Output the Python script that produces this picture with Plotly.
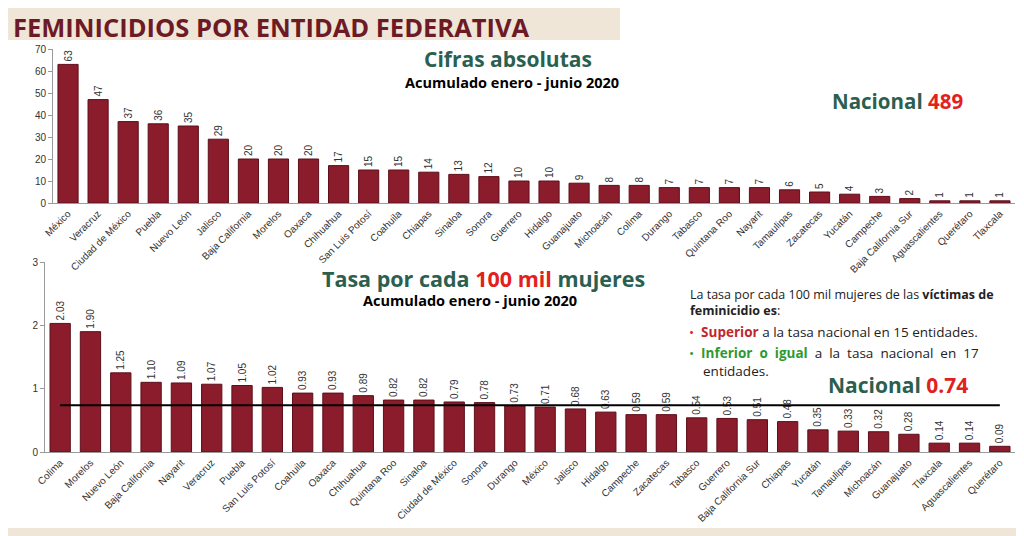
import plotly.graph_objects as go

# ---------------- DATA ----------------
abs_states = ["México", "Veracruz", "Ciudad de México", "Puebla", "Nuevo León", "Jalisco",
              "Baja California", "Morelos", "Oaxaca", "Chihuahua", "San Luis Potosí", "Coahuila",
              "Chiapas", "Sinaloa", "Sonora", "Guerrero", "Hidalgo", "Guanajuato", "Michoacán",
              "Colima", "Durango", "Tabasco", "Quintana Roo", "Nayarit", "Tamaulipas", "Zacatecas",
              "Yucatán", "Campeche", "Baja California Sur", "Aguascalientes", "Querétaro", "Tlaxcala"]
abs_values = [63, 47, 37, 36, 35, 29, 20, 20, 20, 17, 15, 15, 14, 13, 12, 10, 10, 9, 8, 8,
              7, 7, 7, 7, 6, 5, 4, 3, 2, 1, 1, 1]

rate_states = ["Colima", "Morelos", "Nuevo León", "Baja California", "Nayarit", "Veracruz",
               "Puebla", "San Luis Potosí", "Coahuila", "Oaxaca", "Chihuahua", "Quintana Roo",
               "Sinaloa", "Ciudad de México", "Sonora", "Durango", "México", "Jalisco", "Hidalgo",
               "Campeche", "Zacatecas", "Tabasco", "Guerrero", "Baja California Sur", "Chiapas",
               "Yucatán", "Tamaulipas", "Michoacán", "Guanajuato", "Tlaxcala", "Aguascalientes",
               "Querétaro"]
rate_values = [2.03, 1.90, 1.25, 1.10, 1.09, 1.07, 1.05, 1.02, 0.93, 0.93, 0.89, 0.82, 0.82,
               0.79, 0.78, 0.73, 0.71, 0.68, 0.63, 0.59, 0.59, 0.54, 0.53, 0.51, 0.48, 0.35,
               0.33, 0.32, 0.28, 0.14, 0.14, 0.09]

nacional_total = 489
nacional_tasa = 0.74
abs_ticks = [0, 10, 20, 30, 40, 50, 60, 70]
rate_ticks = [0, 1, 2, 3]

# ---------------- STYLE ----------------
OFF = 8  # page body margin
W, H = 1024 - OFF, 536 - OFF
BAR = "#8a1c2b"
BAR_EDGE = "#5e0f1a"
TEAL = "#2b5f4f"
RED = "#e3211c"
MAROON = "#6d1a26"
AXFONT = dict(family="Liberation Sans, Arial", size=10, color="#333333")
TITLEFONT = "Open Sans, Lato, sans-serif"


def px_x(p):
    return (p - OFF) / W


def px_y(p):
    return 1 - (p - OFF) / H


fig = go.Figure()

fig.add_trace(go.Bar(
    x=abs_states, y=abs_values, xaxis="x", yaxis="y",
    marker=dict(color=BAR, line=dict(color=BAR_EDGE, width=1)),
    text=[str(v) for v in abs_values], textposition="outside", textangle=-90,
    textfont=dict(family="Liberation Sans, Arial", size=10, color="#333333"),
    cliponaxis=False, showlegend=False,
))

fig.add_trace(go.Bar(
    x=rate_states, y=rate_values, xaxis="x2", yaxis="y2",
    marker=dict(color=BAR, line=dict(color=BAR_EDGE, width=1)),
    text=[f"{v:.2f}" for v in rate_values], textposition="outside", textangle=-90,
    textfont=dict(family="Liberation Sans, Arial", size=10, color="#333333"),
    cliponaxis=False, showlegend=False,
))

# national average line
fig.add_trace(go.Scatter(
    x=[rate_states[0], rate_states[-1]], y=[nacional_tasa, nacional_tasa],
    xaxis="x2", yaxis="y2", mode="lines",
    line=dict(color="black", width=2), showlegend=False, hoverinfo="skip",
))

axis_common = dict(showgrid=False, zeroline=False, showline=True, linecolor="#9a9a9a",
                   linewidth=1, tickfont=AXFONT, automargin=False)

fig.update_layout(
    width=W, height=H,
    margin=dict(l=0, r=0, t=0, b=0, autoexpand=False),
    paper_bgcolor="white", plot_bgcolor="rgba(0,0,0,0)",
    bargap=0.33,
    xaxis=dict(domain=[px_x(53), px_x(1015)], tickangle=-45, ticks="", anchor="y",
               **axis_common),
    yaxis=dict(domain=[px_y(203), px_y(49)], range=[0, 70], tickvals=abs_ticks,
               ticks="outside", ticklen=4, tickcolor="#9a9a9a", anchor="x", **axis_common),
    xaxis2=dict(domain=[px_x(45), px_x(1015)], tickangle=-45, ticks="", anchor="y2",
                **axis_common),
    yaxis2=dict(domain=[px_y(452), px_y(262)], range=[0, 3], tickvals=rate_ticks,
                ticks="outside", ticklen=4, tickcolor="#9a9a9a", anchor="x2", **axis_common),
)

# decorative title band and bottom band
fig.add_shape(type="rect", xref="paper", yref="paper", x0=0, x1=px_x(620),
              y0=px_y(40), y1=1, fillcolor="#efe6d8", line_width=0, layer="below")
fig.add_shape(type="rect", xref="paper", yref="paper", x0=0, x1=1,
              y0=0, y1=px_y(528), fillcolor="#efe6d8", line_width=0, layer="below")

ann = []


def add_text(txt, x, y, size, color="black", xanchor="center", family=TITLEFONT, bold=True,
             yanchor="middle"):
    ann.append(dict(text=(f"<b>{txt}</b>" if bold else txt), x=px_x(x), y=px_y(y),
                    xref="paper", yref="paper", xanchor=xanchor, yanchor=yanchor,
                    showarrow=False, font=dict(family=family, size=size, color=color)))


add_text("FEMINICIDIOS POR ENTIDAD FEDERATIVA", 11, OFF, 25.5, MAROON, xanchor="left",
         yanchor="top")
add_text("Cifras absolutas", 508, 59, 21, TEAL)
add_text("Acumulado enero - junio 2020", 512, 82, 14.5)
add_text(f"Nacional <span style='color:{RED}'>{nacional_total}</span>", 897, 101, 20.5, TEAL)
add_text(f"Tasa por cada <span style='color:{RED}'>100 mil</span> mujeres", 483, 278, 21.5, TEAL)
add_text("Acumulado enero - junio 2020", 470, 300, 14.5)
add_text(f"Nacional <span style='color:{RED}'>{nacional_tasa:.2f}</span>", 898, 385, 21, TEAL)

ann.append(dict(
    text="La tasa por cada 100 mil mujeres de las <b>víctimas de</b><br><b>feminicidio es</b>:",
    x=px_x(688), y=px_y(302), xref="paper", yref="paper", xanchor="left", yanchor="middle",
    align="left", showarrow=False,
    font=dict(family=TITLEFONT, size=12.5, color="#222222")))
ann.append(dict(
    text=f"<span style='color:{RED}'>•</span>  <b><span style='color:#c0272d'>Superior</span></b> a la tasa nacional en 15 entidades.",
    x=px_x(687), y=px_y(332), xref="paper", yref="paper", xanchor="left", yanchor="middle",
    align="left", showarrow=False,
    font=dict(family=TITLEFONT, size=13.5, color="#222222")))
ann.append(dict(
    text="<span style='color:#2e9a2e'>•</span>  <b><span style='color:#2e9a2e'>Inferior  o  igual</span></b>  a  la  tasa  nacional  en  17<br>    entidades.",
    x=px_x(687), y=px_y(362), xref="paper", yref="paper", xanchor="left", yanchor="middle",
    align="left", showarrow=False,
    font=dict(family=TITLEFONT, size=13.5, color="#222222")))

fig.update_layout(annotations=ann)

fig.write_html("out.html")
